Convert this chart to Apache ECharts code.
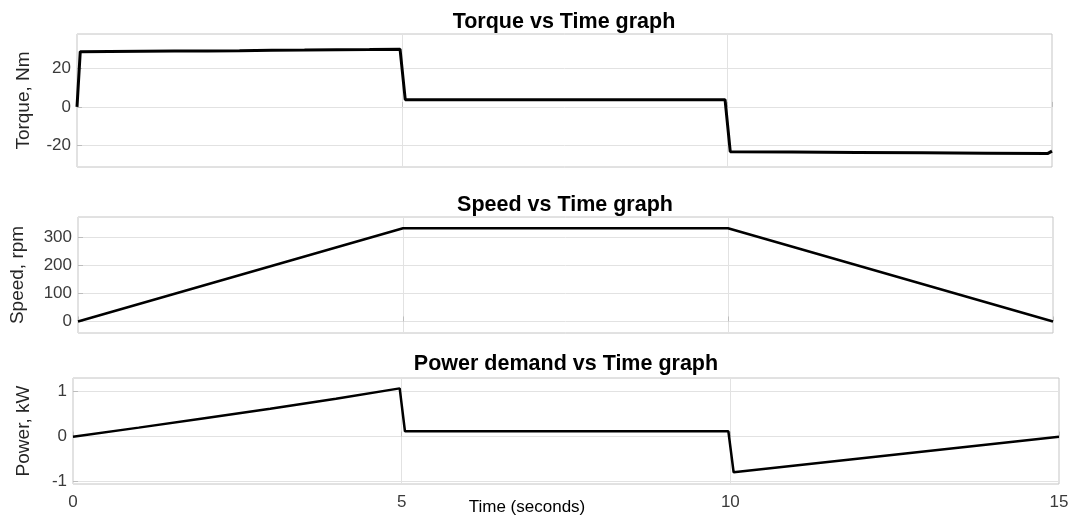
<!DOCTYPE html>
<html>
<head>
<meta charset="utf-8">
<script src="https://cdn.jsdelivr.net/npm/echarts@6/dist/echarts.min.js"></script>
<style>
  html, body { margin: 0; padding: 0; background: #fff; }
  #chart { width: 1075px; height: 519px; }
</style>
</head>
<body>
<div id="chart"></div>
<script>
// time stamps (s) and readings taken off the plots
const torqueTime = [0, 0.05, 0.5, 1, 1.5, 2, 2.5, 3, 3.5, 4, 4.5, 4.97, 5.05, 7.5, 9.97, 10.05, 11, 12, 13, 14, 14.93, 15];
const torqueNm = [0, 28.8, 28.9, 29.0, 29.1, 29.2, 29.3, 29.5, 29.6, 29.8, 29.9, 30.1, 3.8, 3.8, 3.8, -23.3, -23.5, -23.7, -23.9, -24.1, -24.3, -23.0];

const speedTime = [0, 5, 10, 15];
const speedRpm = [0, 331, 331, 0];

const powerTime = [0, 1, 2, 3, 4, 4.97, 5.05, 9.97, 10.05, 15];
const powerKw = [0, 0.2, 0.41, 0.62, 0.84, 1.07, 0.12, 0.12, -0.79, 0];

const torqueTicks = [-20, 0, 20];
const speedTicks = [0, 100, 200, 300];
const powerTicks = [-1, 0, 1];

const pairs = (xs, ys) => xs.map((x, i) => [x, ys[i]]);

const chart = echarts.init(document.getElementById('chart'));

const FONT = 'Liberation Sans';
const gridStyle = { show: true, borderColor: '#c4c4c4', borderWidth: 1, backgroundColor: '#fff' };

function xAxisFor(idx, showLabels) {
  return {
    type: 'value', gridIndex: idx, min: 0, max: 15, interval: 5,
    axisLine: { show: false },
    axisTick: { show: true, inside: true, length: 5, lineStyle: { color: '#bdbdbd' } },
    axisLabel: { show: showLabels, color: '#3a3a3a', fontFamily: FONT, fontSize: 17, margin: 10 },
    splitLine: { show: true, lineStyle: { color: '#e2e2e2', width: 1 } }
  };
}

function yAxisFor(idx, min, max, ticks, name, gap) {
  return {
    type: 'value', gridIndex: idx, min: min, max: max,
    name: name, nameLocation: 'middle', nameGap: gap,
    nameTextStyle: { color: '#262626', fontFamily: FONT, fontSize: 19 },
    axisLine: { show: false },
    axisTick: { show: true, inside: true, length: 5, customValues: ticks, lineStyle: { color: '#bdbdbd' } },
    axisLabel: { color: '#3a3a3a', fontFamily: FONT, fontSize: 17, margin: 6, customValues: ticks },
    splitLine: { show: true, lineStyle: { color: '#e2e2e2', width: 1 } }
  };
}

function lineSeries(idx, data, width) {
  return {
    type: 'line', xAxisIndex: idx, yAxisIndex: idx, data: data,
    showSymbol: false, smooth: false, animation: false,
    lineStyle: { color: '#000', width: width }
  };
}

function label(text, x, y, bold, size) {
  return {
    type: 'text', x: x, y: y, silent: true,
    style: {
      text: text, fill: '#000', align: 'center', verticalAlign: 'middle',
      font: (bold ? 'bold ' : '') + size + 'px "' + FONT + '"'
    }
  };
}

const option = {
  backgroundColor: '#fff',
  animation: false,
  grid: [
    Object.assign({ left: 77, top: 34, width: 975, height: 133 }, gridStyle),
    Object.assign({ left: 77, top: 217, width: 976, height: 116 }, gridStyle),
    Object.assign({ left: 73, top: 378, width: 986, height: 106 }, gridStyle)
  ],
  xAxis: [xAxisFor(0, false), xAxisFor(1, false), xAxisFor(2, true)],
  yAxis: [
    yAxisFor(0, -31.3, 38, torqueTicks, 'Torque, Nm', 44),
    yAxisFor(1, -41, 371, speedTicks, 'Speed, rpm', 51),
    yAxisFor(2, -1.05, 1.3, powerTicks, 'Power, kW', 40)
  ],
  graphic: [
    label('Torque vs Time graph', 564, 22, true, 21.5),
    label('Speed vs Time graph', 565, 205, true, 21.5),
    label('Power demand vs Time graph', 566, 364, true, 21.5),
    label('Time (seconds)', 527, 507, false, 17)
  ],
  series: [
    lineSeries(0, pairs(torqueTime, torqueNm), 3),
    lineSeries(1, pairs(speedTime, speedRpm), 2.5),
    lineSeries(2, pairs(powerTime, powerKw), 2.5)
  ]
};

chart.setOption(option);
</script>
</body>
</html>
